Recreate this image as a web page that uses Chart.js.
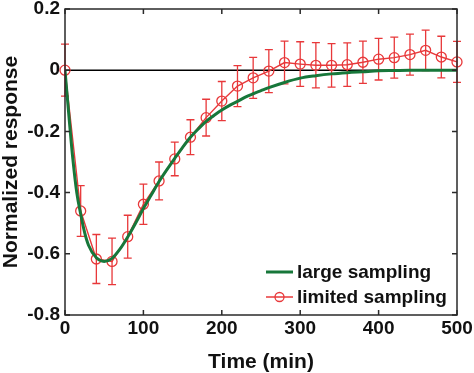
<!DOCTYPE html>
<html>
<head>
<meta charset="utf-8">
<script src="https://cdn.jsdelivr.net/npm/chart.js@4"></script>
<style>
  html, body { margin: 0; padding: 0; background: #fff; }
  #wrap { width: 474px; height: 373px; }
</style>
</head>
<body>
<div id="wrap"><canvas id="chart" width="474" height="373"></canvas></div>
<script>
// Normalized response vs time: large sampling (smooth) vs limited sampling (mean +/- error)

const largeTime = [0, 5, 10, 15, 20, 25, 30, 40, 50, 60, 70, 80, 90, 100, 110, 120, 130, 140, 150,
  160, 170, 180, 190, 200, 210, 220, 230, 240, 250, 260, 280, 300, 320, 340, 360, 380, 400,
  420, 440, 460, 480, 500];
const largeResp = [0, -0.15, -0.29, -0.4, -0.47, -0.53, -0.572, -0.613, -0.625, -0.615, -0.585,
  -0.545, -0.5, -0.452, -0.408, -0.364, -0.325, -0.288, -0.252, -0.219, -0.192, -0.167, -0.148,
  -0.13, -0.115, -0.102, -0.088, -0.077, -0.067, -0.057, -0.04, -0.026, -0.018, -0.012, -0.008,
  -0.005, -0.002, -0.001, 0, 0, 0, 0];

const limitedTime = [0, 20, 40, 60, 80, 100, 120, 140, 160, 180, 200, 220, 240, 260, 280, 300,
  320, 340, 360, 380, 400, 420, 440, 460, 480, 500];
const limitedMean = [0, -0.46, -0.617, -0.625, -0.544, -0.438, -0.362, -0.29, -0.219, -0.155,
  -0.101, -0.052, -0.025, -0.003, 0.025, 0.02, 0.016, 0.016, 0.018, 0.026, 0.036, 0.041, 0.051,
  0.065, 0.043, 0.027];
const limitedErr = [0.085, 0.083, 0.08, 0.076, 0.07, 0.066, 0.062, 0.055, 0.057, 0.06, 0.064,
  0.067, 0.067, 0.07, 0.07, 0.073, 0.074, 0.071, 0.071, 0.069, 0.068, 0.067, 0.067, 0.066,
  0.068, 0.067];

const seriesNames = ['large sampling', 'limited sampling'];
const xTicks = [0, 100, 200, 300, 400, 500];
const yTicks = [-0.8, -0.6, -0.4, -0.2, 0, 0.2];

const GREEN = '#17773a';
const RED = '#e8383a';
const FONT = "'Liberation Sans', Arial, sans-serif";

const fmtY = v => Math.abs(v) < 1e-9 ? '0' : v.toFixed(1);

// zero line + error bars under the data, frame/ticks/legend on top
const decor = {
  id: 'decor',
  beforeDatasetsDraw(chart) {
    const { ctx, chartArea: a, scales: { x, y } } = chart;
    ctx.save();
    const y0 = y.getPixelForValue(0);
    ctx.strokeStyle = '#000';
    ctx.lineWidth = 1.5;
    ctx.beginPath();
    ctx.moveTo(a.left, y0);
    ctx.lineTo(a.right, y0);
    ctx.stroke();

    ctx.strokeStyle = RED;
    ctx.lineWidth = 1.3;
    limitedTime.forEach((t, i) => {
      const px = x.getPixelForValue(t);
      const top = y.getPixelForValue(limitedMean[i] + limitedErr[i]);
      const bot = y.getPixelForValue(limitedMean[i] - limitedErr[i]);
      ctx.beginPath();
      ctx.moveTo(px, top); ctx.lineTo(px, bot);
      ctx.moveTo(px - 4, top); ctx.lineTo(px + 4, top);
      ctx.moveTo(px - 4, bot); ctx.lineTo(px + 4, bot);
      ctx.stroke();
    });
    ctx.restore();
  },
  afterDatasetsDraw(chart) {
    const { ctx, chartArea: a, scales: { x, y } } = chart;
    ctx.save();
    ctx.strokeStyle = '#2a2a2a';
    ctx.lineWidth = 1.5;
    ctx.strokeRect(a.left, a.top, a.right - a.left, a.bottom - a.top);

    // MATLAB style inward ticks on all four sides
    const len = 5;
    ctx.beginPath();
    xTicks.forEach(v => {
      const px = x.getPixelForValue(v);
      ctx.moveTo(px, a.bottom); ctx.lineTo(px, a.bottom - len);
      ctx.moveTo(px, a.top); ctx.lineTo(px, a.top + len);
    });
    yTicks.forEach(v => {
      const py = y.getPixelForValue(v);
      ctx.moveTo(a.left, py); ctx.lineTo(a.left + len, py);
      ctx.moveTo(a.right, py); ctx.lineTo(a.right - len, py);
    });
    ctx.stroke();

    // legend inside the plot, bottom right, no box
    ctx.font = 'bold 19px ' + FONT;
    ctx.textBaseline = 'middle';
    ctx.fillStyle = '#111';
    const rows = [
      { color: GREEN, width: 3, y: 272, marker: false },
      { color: RED, width: 1.5, y: 297, marker: true }
    ];
    rows.forEach((r, i) => {
      ctx.strokeStyle = r.color;
      ctx.lineWidth = r.width;
      ctx.beginPath();
      ctx.moveTo(266, r.y); ctx.lineTo(293, r.y);
      ctx.stroke();
      if (r.marker) {
        ctx.lineWidth = 1.3;
        ctx.beginPath();
        ctx.arc(279.5, r.y, 4.5, 0, Math.PI * 2);
        ctx.stroke();
      }
      ctx.fillText(seriesNames[i], 297, r.y + 1);
    });
    ctx.restore();
  }
};

new Chart(document.getElementById('chart').getContext('2d'), {
  type: 'line',
  data: {
    datasets: [
      {
        label: seriesNames[0],
        data: largeTime.map((t, i) => ({ x: t, y: largeResp[i] })),
        borderColor: GREEN,
        borderWidth: 3,
        pointRadius: 0,
        cubicInterpolationMode: 'monotone',
        fill: false
      },
      {
        label: seriesNames[1],
        data: limitedTime.map((t, i) => ({ x: t, y: limitedMean[i] })),
        borderColor: RED,
        borderWidth: 1.4,
        pointRadius: 5,
        pointStyle: 'circle',
        pointBorderColor: RED,
        pointBackgroundColor: 'rgba(0,0,0,0)',
        pointBorderWidth: 1.3,
        tension: 0,
        clip: false,
        fill: false
      }
    ]
  },
  options: {
    responsive: false,
    animation: false,
    events: [],
    layout: { padding: { top: 9, right: 17, bottom: 0, left: 0 } },
    plugins: {
      legend: { display: false },
      tooltip: { enabled: false }
    },
    scales: {
      x: {
        type: 'linear',
        min: 0, max: 500,
        afterBuildTicks(s) { s.ticks = xTicks.map(v => ({ value: v })); },
        afterFit(s) { s.height = 58; s.paddingLeft = 0; s.paddingRight = 0; },
        grid: { display: false, drawTicks: false },
        border: { display: false },
        ticks: {
          padding: 4,
          color: '#111',
          maxRotation: 0,
          font: { family: FONT, size: 19, weight: 'bold', lineHeight: 1 }
        },
        title: {
          display: true,
          text: 'Time (min)',
          color: '#111',
          padding: { top: 0, bottom: 0 },
          font: { family: FONT, size: 21, weight: 'bold', lineHeight: 1 }
        }
      },
      y: {
        min: -0.8, max: 0.2,
        afterBuildTicks(s) { s.ticks = yTicks.map(v => ({ value: v })); },
        afterFit(s) { s.width = 65; s.paddingTop = 0; s.paddingBottom = 0; },
        grid: { display: false, drawTicks: false },
        border: { display: false },
        ticks: {
          padding: 5,
          color: '#111',
          callback: v => fmtY(v),
          font: { family: FONT, size: 19, weight: 'bold', lineHeight: 1 }
        },
        title: {
          display: true,
          text: 'Normalized response',
          color: '#111',
          padding: { top: 1, bottom: 0 },
          font: { family: FONT, size: 21, weight: 'bold', lineHeight: 1 }
        }
      }
    }
  },
  plugins: [decor]
});
</script>
</body>
</html>
